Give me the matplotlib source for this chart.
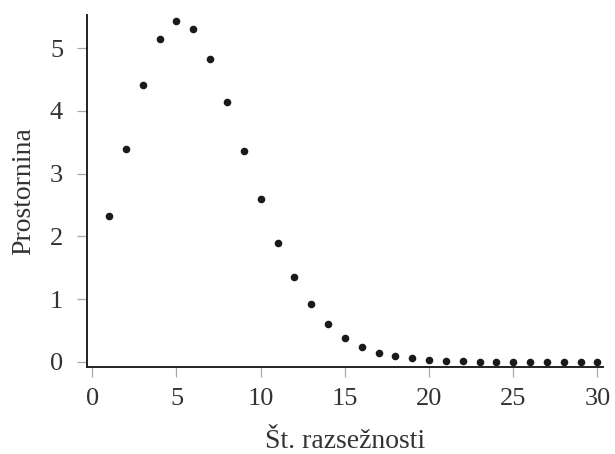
import numpy as np
import matplotlib
matplotlib.use("Agg")
import matplotlib.pyplot as plt

# volume of the unit ball by number of dimensions
dims = list(range(1, 31))
volume = [2.33, 3.40, 4.42, 5.14, 5.44, 5.31, 4.83, 4.14, 3.36, 2.60,
          1.90, 1.35, 0.92, 0.61, 0.38, 0.24, 0.14, 0.086, 0.054, 0.027,
          0.012, 0.006, 0.003, 0.001, 0.0, 0.0, 0.0, 0.0, 0.0, 0.0]

xticks = [0, 5, 10, 15, 20, 25, 30]
yticks = [0, 1, 2, 3, 4, 5]

plt.rcParams['font.family'] = ['Liberation Serif', 'DejaVu Serif']

fig = plt.figure(figsize=(6.15, 4.54), dpi=100)
ax = fig.add_axes([0.141, 0.192, 0.839, 0.775])

ax.scatter(dims, volume, s=30, color='#1a1a1a', zorder=3, linewidths=0)

ax.set_xlim(-0.33, 30.31)
ax.set_ylim(-0.08, 5.53)
ax.set_xticks(xticks)
ax.set_yticks(yticks)

for s in ['top', 'right']:
    ax.spines[s].set_visible(False)
for s in ['left', 'bottom']:
    ax.spines[s].set_linewidth(1.4)
    ax.spines[s].set_color('#222222')

ax.tick_params(axis='both', length=7, width=0.9, color='#a8a8a8',
               labelcolor='#333333', labelsize=19)
ax.tick_params(axis='y', pad=10)
ax.tick_params(axis='x', pad=8)

ax.set_xlabel('Št. razsežnosti', fontsize=20, color='#333333', labelpad=14)
ax.set_ylabel('Prostornina', fontsize=20, color='#333333', labelpad=10)

fig.savefig('out.png', dpi=100)
